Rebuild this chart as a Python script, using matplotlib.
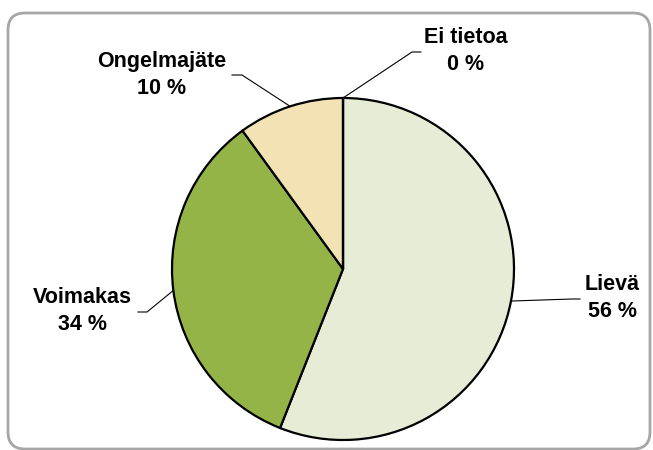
import numpy as np
import matplotlib.pyplot as plt
from matplotlib.patches import FancyBboxPatch

labels = ['Lievä', 'Voimakas', 'Ongelmajäte', 'Ei tietoa']
values = [56, 34, 10, 0]
colors = ['#E6ECD6', '#94B447', '#F2E2B4', '#FFFFFF']

W, H = 653, 450


def px(x, y):
    # image pixels (top-left origin) -> axes data coords
    return x, H - y


# label centre and leader-line horizontal end (inner, outer), image pixels
label_pos = [(612, 298), (82, 311), (162, 75), (466, 51)]
elbows = [((572, 299), (580, 299)),
          ((147, 312), (138, 312)),
          ((242, 75), (232, 75)),
          ((412, 52), (421, 52))]

plt.rcParams['font.family'] = ['Liberation Sans', 'DejaVu Sans']

fig = plt.figure(figsize=(W / 100, H / 100), dpi=100)
ax = fig.add_axes([0, 0, 1, 1])

cx, cy = px(343, 269)
R = 171
wedges, _ = ax.pie(values, colors=colors, startangle=90, counterclock=False,
                   center=(cx, cy), radius=R,
                   wedgeprops=dict(edgecolor='black', linewidth=1.6))

for w, lab, val, (lx, ly), (e1, e2) in zip(wedges, labels, values, label_pos, elbows):
    mid = np.deg2rad((w.theta1 + w.theta2) / 2)
    ax_x = cx + R * np.cos(mid)
    ax_y = cy + R * np.sin(mid)
    xs = [ax_x, px(*e1)[0], px(*e2)[0]]
    ys = [ax_y, px(*e1)[1], px(*e2)[1]]
    ax.plot(xs, ys, color='black', lw=0.8, zorder=3)
    tx, ty = px(lx, ly)
    ax.text(tx, ty, '%s\n%d %%' % (lab, val), ha='center', va='center',
            fontsize=15.5, fontweight='bold', linespacing=1.4)

frame = FancyBboxPatch(px(8, 449), 642, 436,
                       boxstyle='round,pad=0,rounding_size=17',
                       fill=False, edgecolor='#A6A6A6', linewidth=2,
                       clip_on=False, zorder=5)
ax.add_patch(frame)

ax.set_xlim(0, W)
ax.set_ylim(0, H)
ax.set_aspect('equal')
ax.axis('off')

fig.savefig('out.png', dpi=100)
